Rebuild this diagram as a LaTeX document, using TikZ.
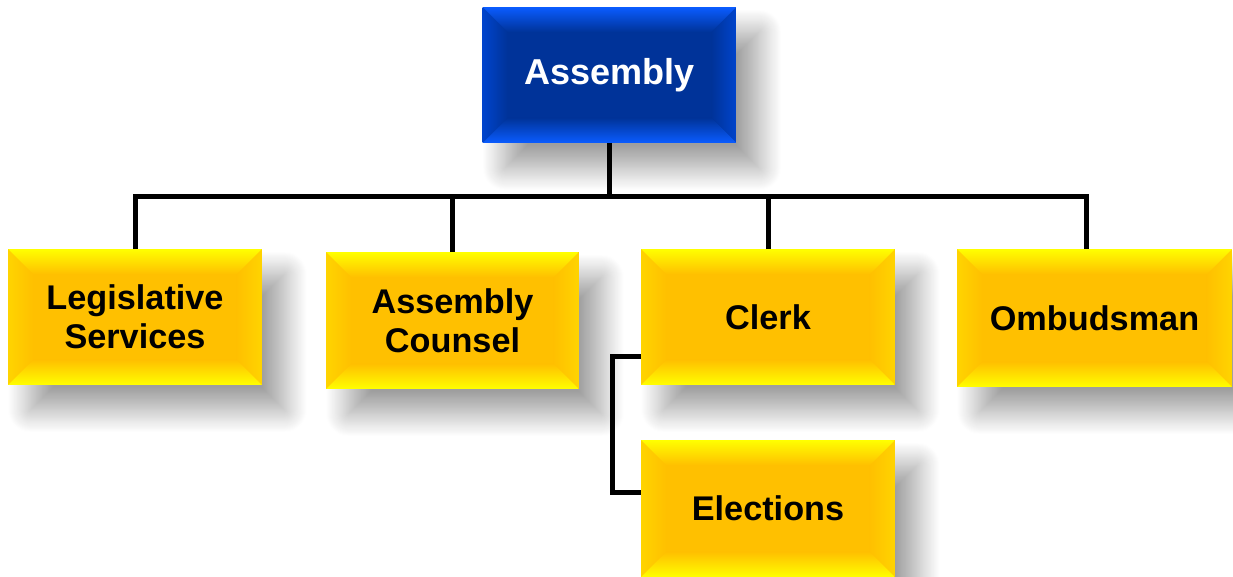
\documentclass[tikz,border=0pt]{standalone}
\usepackage{fontspec}
\setmainfont{Liberation Sans}
\usetikzlibrary{calc, shadows.blur}

\definecolor{navydark}{HTML}{003399}
\definecolor{navylight}{HTML}{0A5CFF}
\definecolor{navyside}{HTML}{0044CC}
\definecolor{golddark}{HTML}{FFC000}
\definecolor{goldlight}{HTML}{FFFF00}
\definecolor{goldside}{HTML}{FFD400}

% bevelled faces of a box: light edge, side edge, face colour
\newcommand{\bevelfaces}[3]{%
  \def\bw{0.5cm}
  \coordinate (pnw) at (path picture bounding box.north west);
  \coordinate (pne) at (path picture bounding box.north east);
  \coordinate (psw) at (path picture bounding box.south west);
  \coordinate (pse) at (path picture bounding box.south east);
  \shade[left color=#2, right color=#3] (pnw) -- (psw) -- ($(psw)+(\bw,\bw)$) -- ($(pnw)+(\bw,-\bw)$) -- cycle;
  \shade[right color=#2, left color=#3] (pne) -- (pse) -- ($(pse)+(-\bw,\bw)$) -- ($(pne)+(-\bw,-\bw)$) -- cycle;
  \shade[top color=#1, bottom color=#3] (pnw) -- (pne) -- ($(pne)+(-\bw,-\bw)$) -- ($(pnw)+(\bw,-\bw)$) -- cycle;
  \shade[bottom color=#1, top color=#3] (psw) -- (pse) -- ($(pse)+(-\bw,\bw)$) -- ($(psw)+(\bw,\bw)$) -- cycle;
}

\tikzset{
  unitbox/.style={rectangle, fill=golddark, inner sep=0pt, outer sep=0pt,
    minimum width=5.08cm, minimum height=2.72cm, align=center, text=black,
    font=\bfseries\fontsize{19.5}{22}\selectfont,
    blur shadow={shadow xshift=0.45cm, shadow yshift=-0.5cm, shadow blur radius=0.45cm,
      shadow blur steps=25, shadow opacity=38},
    path picture={\bevelfaces{goldlight}{goldside}{golddark}}},
  topbox/.style={unitbox, fill=navydark, text=white,
    font=\bfseries\fontsize{20.5}{24}\selectfont,
    path picture={\bevelfaces{navylight}{navyside}{navydark}}},
  link/.style={line width=0.1cm, line join=miter}
}

\begin{document}
\begin{tikzpicture}[x=0.02cm, y=-0.02cm]
  \useasboundingbox (0,0) rectangle (1233,577);

  \node[topbox] (assembly) at (609.5,75) {Assembly};
  \node[unitbox] (legis) at (135,317) {Legislative\\Services};
  \node[unitbox, minimum width=5.06cm, minimum height=2.74cm] (counsel) at (452.5,320.5) {Assembly\\Counsel};
  \node[unitbox] (clerk) at (768,317) {Clerk};
  \node[unitbox, minimum width=5.5cm, minimum height=2.76cm] (ombuds) at (1094.5,318) {Ombudsman};
  \node[unitbox, minimum height=2.74cm] (elections) at (768,508.5) {Elections};

  \coordinate (rail) at (609.5,196.5);
  \draw[link] (assembly.south) -- (rail);
  \draw[link] (legis.north) |- (rail) -| ([xshift=-0.16cm]ombuds.north);
  \draw[link] (counsel.north) -- (counsel.north |- rail);
  \draw[link] (clerk.north) -- (clerk.north |- rail);
  \draw[link] ([yshift=-0.8cm]clerk.west) -- ++(-0.58cm,0) |- ([yshift=0.32cm]elections.west);
\end{tikzpicture}
\end{document}
